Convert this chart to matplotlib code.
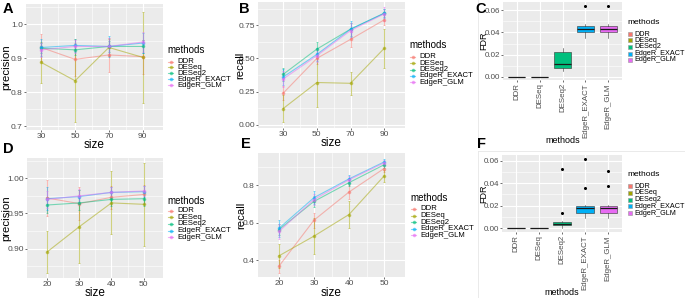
import matplotlib.pyplot as plt
from matplotlib.lines import Line2D
from matplotlib.patches import Rectangle

plt.rcParams['font.family'] = ['Liberation Sans', 'DejaVu Sans']

W, H = 685, 298

methods = ["DDR", "DESeq", "DESeq2", "EdgeR_EXACT", "EdgeR_GLM"]
colors = ["#F8766D", "#A3A500", "#00BF7D", "#00B0F6", "#E76BF3"]

size_top = [30, 50, 70, 90]
size_bot = [20, 30, 40, 50]

# A: precision (mean, sd), rows follow methods
prec_a = [[0.932, 0.897, 0.910, 0.905],
          [0.888, 0.834, 0.932, 0.903],
          [0.930, 0.925, 0.935, 0.935],
          [0.932, 0.938, 0.935, 0.945],
          [0.925, 0.935, 0.935, 0.948]]
prec_a_sd = [[0.040, 0.048, 0.050, 0.050],
             [0.060, 0.122, 0.025, 0.134],
             [0.015, 0.015, 0.015, 0.020],
             [0.025, 0.020, 0.030, 0.030],
             [0.020, 0.020, 0.025, 0.030]]

# B: recall
rec_b = [[0.238, 0.500, 0.643, 0.790],
         [0.122, 0.318, 0.312, 0.575],
         [0.380, 0.570, 0.720, 0.840],
         [0.360, 0.530, 0.720, 0.840],
         [0.345, 0.520, 0.710, 0.835]]
rec_b_sd = [[0.055, 0.040, 0.055, 0.035],
            [0.100, 0.185, 0.085, 0.145],
            [0.050, 0.050, 0.050, 0.030],
            [0.060, 0.050, 0.060, 0.035],
            [0.060, 0.050, 0.060, 0.050]]

# D: precision
prec_d = [[0.972, 0.964, 0.973, 0.977],
          [0.895, 0.931, 0.965, 0.963],
          [0.962, 0.965, 0.970, 0.971],
          [0.971, 0.974, 0.980, 0.981],
          [0.970, 0.975, 0.980, 0.982]]
prec_d_sd = [[0.026, 0.024, 0.016, 0.014],
             [0.030, 0.052, 0.045, 0.059],
             [0.012, 0.010, 0.010, 0.010],
             [0.016, 0.010, 0.007, 0.008],
             [0.012, 0.010, 0.007, 0.007]]

# E: recall
rec_e = [[0.370, 0.615, 0.765, 0.890],
         [0.425, 0.530, 0.645, 0.850],
         [0.565, 0.715, 0.815, 0.910],
         [0.572, 0.735, 0.835, 0.925],
         [0.555, 0.725, 0.830, 0.920]]
rec_e_sd = [[0.035, 0.040, 0.035, 0.020],
            [0.065, 0.095, 0.070, 0.030],
            [0.030, 0.030, 0.020, 0.015],
            [0.045, 0.035, 0.020, 0.015],
            [0.040, 0.030, 0.020, 0.015]]

# C / F: FDR box statistics
fdr_c_lo = [0, 0, 0.0055, 0.0347, 0.0349]
fdr_c_q1 = [0, 0, 0.0083, 0.0400, 0.0403]
fdr_c_med = [0, 0, 0.0116, 0.0427, 0.0433]
fdr_c_q3 = [0, 0, 0.0227, 0.0457, 0.0460]
fdr_c_hi = [0, 0, 0.0262, 0.0472, 0.0475]
fdr_c_out = [[], [], [], [0.0639], [0.0633]]

fdr_f_lo = [0, 0, 0.0005, 0.0093, 0.0093]
fdr_f_q1 = [0, 0, 0.0023, 0.0137, 0.0137]
fdr_f_med = [0, 0, 0.0038, 0.0180, 0.0183]
fdr_f_q3 = [0, 0, 0.0052, 0.0197, 0.0197]
fdr_f_hi = [0, 0, 0.0060, 0.0205, 0.0205]
fdr_f_out = [[], [], [0.0137, 0.0530], [0.0354, 0.0617], [0.0377, 0.0507]]


def fx(x):
    return x / W


def fy(y):
    return 1 - y / H


def make_axes(fig, x0, y0, x1, y1):
    ax = fig.add_axes([fx(x0), fy(y1), (x1 - x0) / W, (y1 - y0) / H])
    ax.px = (x0, y0, x1, y1)
    return ax


def place_labels(ax, xlab_top, ylab_right):
    x0, y0, x1, y1 = ax.px
    ax.xaxis.set_label_coords(0.5, -(xlab_top - y1) / (y1 - y0))
    ax.yaxis.set_label_coords((ylab_right - x0) / (x1 - x0), 0.5)


def gg_style(ax, tick_size=6.0):
    ax.set_facecolor("#EBEBEB")
    for s in ax.spines.values():
        s.set_visible(False)
    ax.grid(True, which="major", color="white", lw=0.8)
    ax.grid(True, which="minor", color="white", lw=0.4)
    ax.set_axisbelow(True)
    ax.tick_params(which="major", length=1.5, width=0.5, color="#333333",
                   labelcolor="#4D4D4D", labelsize=tick_size, pad=0.8)
    ax.tick_params(which="minor", length=0)


def line_panel(ax, x, means, sds, xlim, ylim, yticks, yminor, ylabel):
    gg_style(ax)
    for mu, sd, c in zip(means, sds, colors):
        ax.errorbar(x, mu, yerr=sd, color=c, alpha=0.5, lw=0.8,
                    elinewidth=0.8, capsize=1, capthick=0.6,
                    marker="o", ms=1.6)
    ax.set_xlim(xlim)
    ax.set_ylim(ylim)
    ax.set_xticks(x)
    ax.set_xticks([(a + b) / 2 for a, b in zip(x[:-1], x[1:])], minor=True)
    ax.set_yticks(yticks)
    ax.set_yticks(yminor, minor=True)
    ax.set_xlabel("size", fontsize=8.5)
    ax.set_ylabel(ylabel, fontsize=8.2)


def box_panel(ax, lo, q1, med, q3, hi, out, ylim):
    gg_style(ax, tick_size=5.8)
    stats = []
    for i in range(len(methods)):
        stats.append(dict(whislo=lo[i], q1=q1[i], med=med[i], q3=q3[i],
                          whishi=hi[i], fliers=out[i]))
    bp = ax.bxp(stats, positions=range(1, 6), widths=0.75, patch_artist=True,
                showcaps=False,
                boxprops=dict(edgecolor="#333333", lw=0.4),
                whiskerprops=dict(color="#333333", lw=0.4),
                medianprops=dict(color="#1A1A1A", lw=0.9),
                flierprops=dict(marker="o", ms=1.2, mfc="black", mec="black"))
    for p, c in zip(bp["boxes"], colors):
        p.set_facecolor(c)
    ax.set_xlim(0.4, 5.6)
    ax.set_ylim(ylim)
    ax.set_xticks(range(1, 6))
    ax.set_xticklabels(methods, rotation=90, fontsize=5.7)
    ax.set_yticks([0, 0.02, 0.04, 0.06])
    ax.set_yticklabels(["0.00", "0.02", "0.04", "0.06"])
    ax.set_yticks([0.01, 0.03, 0.05], minor=True)
    ax.set_xlabel("methods", fontsize=6.5)
    ax.set_ylabel("FDR", fontsize=6.5)


def line_legend(fig, x, y_title, y_first, pitch):
    fig.text(fx(x), fy(y_title), "methods", fontsize=7, va="center")
    for i, (m, c) in enumerate(zip(methods, colors)):
        yc = y_first + i * pitch
        fig.add_artist(Line2D([fx(x + 1), fx(x + 6)], [fy(yc)] * 2,
                              color=c, alpha=0.5, lw=0.8))
        fig.add_artist(Line2D([fx(x + 3.5)], [fy(yc)], marker="o", ms=1.6,
                              color=c, alpha=0.5))
        fig.text(fx(x + 10), fy(yc), m, fontsize=5.6, va="center")


def box_legend(fig, x, y_title, y_first, pitch):
    fig.text(fx(x), fy(y_title), "methods", fontsize=6, va="center")
    for i, (m, c) in enumerate(zip(methods, colors)):
        yc = y_first + i * pitch
        fig.add_artist(Rectangle((fx(x + 1), fy(yc + 2)), 4 / W, 4 / H,
                                 transform=fig.transFigure, facecolor=c,
                                 edgecolor="#999999", lw=0.4))
        fig.text(fx(x + 7.5), fy(yc), m, fontsize=5.2, va="center")


fig = plt.figure(figsize=(6.85, 2.98), dpi=100)

ax_a = make_axes(fig, 26, 4, 163, 130)
line_panel(ax_a, size_top, prec_a, prec_a_sd, (21, 102), (0.689, 1.06),
           [0.7, 0.8, 0.9, 1.0], [0.75, 0.85, 0.95, 1.05], "precision")
ax_a.set_yticklabels(["0.7", "0.8", "0.9", "1.0"])
place_labels(ax_a, 139, 11)

ax_b = make_axes(fig, 258, 2, 405, 128)
line_panel(ax_b, size_top, rec_b, rec_b_sd, (15, 102.4), (-0.025, 0.925),
           [0, 0.25, 0.5, 0.75], [0.125, 0.375, 0.625, 0.875], "recall")
ax_b.set_yticklabels(["0.00", "0.25", "0.50", "0.75"])
place_labels(ax_b, 137, 245)

ax_c = make_axes(fig, 503, 2, 622, 80)
box_panel(ax_c, fdr_c_lo, fdr_c_q1, fdr_c_med, fdr_c_q3, fdr_c_hi, fdr_c_out,
          (-0.0027, 0.0672))
place_labels(ax_c, 136, 488)

ax_d = make_axes(fig, 27, 158, 163, 278)
line_panel(ax_d, size_bot, prec_d, prec_d_sd, (13.8, 56), (0.858, 1.029),
           [0.90, 0.95, 1.00], [0.875, 0.925, 0.975, 1.025], "precision")
ax_d.set_yticklabels(["0.90", "0.95", "1.00"])
place_labels(ax_d, 287, 11)

ax_e = make_axes(fig, 258, 153, 405, 277)
line_panel(ax_e, size_bot, rec_e, rec_e_sd, (14, 56), (0.312, 0.973),
           [0.4, 0.6, 0.8], [0.5, 0.7, 0.9], "recall")
ax_e.set_yticklabels(["0.4", "0.6", "0.8"])
place_labels(ax_e, 287, 246)

ax_f = make_axes(fig, 502, 155, 622, 232)
box_panel(ax_f, fdr_f_lo, fdr_f_q1, fdr_f_med, fdr_f_q3, fdr_f_hi, fdr_f_out,
          (-0.0035, 0.0652))
place_labels(ax_f, 288, 488)

line_legend(fig, 167, 50, 61.5, 5.9)
line_legend(fig, 409, 45, 57, 6.3)
box_legend(fig, 627, 23, 34, 6.5)
line_legend(fig, 167, 201, 210.5, 6.7)
line_legend(fig, 410, 198, 209, 6.6)
box_legend(fig, 627, 174, 186, 6.8)

# panel letters
for lab, x, y in [("A", 3, 2), ("B", 239, 2), ("C", 475, 2),
                  ("D", 3, 142), ("E", 241, 137), ("F", 477, 137)]:
    fig.text(fx(x), fy(y), lab, fontsize=10.5, fontweight="bold",
             va="top", ha="left")

# faint sub-figure borders
for (x0, y0, x1, y1) in [(478, 0, 478, 145), (478, 151, 685, 151),
                         (478, 151, 478, 298)]:
    fig.add_artist(Line2D([fx(x0), fx(x1)], [fy(y0), fy(y1)],
                          color="#E6E6E6", lw=0.6))

fig.savefig("out.png", dpi=100)
